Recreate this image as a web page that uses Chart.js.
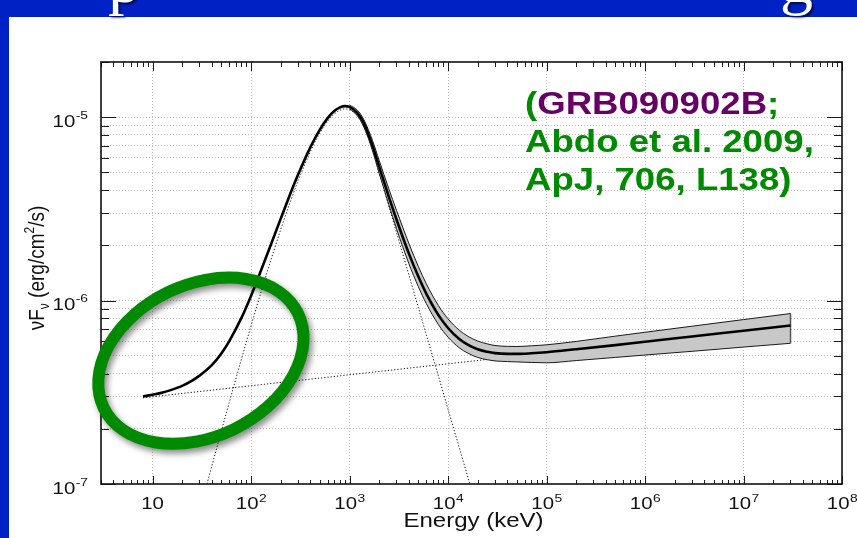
<!DOCTYPE html>
<html>
<head>
<meta charset="utf-8">
<script src="https://cdn.jsdelivr.net/npm/chart.js@4.4.1/dist/chart.umd.min.js"></script>
<style>
  html, body { margin: 0; padding: 0; background: #0022c4; overflow: hidden; }
  #c { display: block; }
</style>
</head>
<body>
<canvas id="c" width="857" height="538" style="width:857px;height:538px"></canvas>
<script>
// Photon energy grid (keV) and total model nuFnu (erg/cm^2/s): Band + power law
const energyKeV = [8, 10, 12, 15, 20, 25, 30, 40, 50, 60, 80, 100, 130, 160, 200, 250, 300, 400, 500, 600,
  700, 800, 900, 1000, 1200, 1400, 1715, 2000, 2500, 3000, 4000, 5000, 6000, 8000, 1e4, 1.3e4, 1.6e4,
  2e4, 2.5e4, 3e4, 4e4, 5e4, 7e4, 1e5, 2e5, 5e5, 1e6, 3e6, 1e7, 3e7];
const totalFlux = [3.00e-7, 3.07e-7, 3.13e-7, 3.24e-7, 3.43e-7, 3.65e-7, 3.90e-7, 4.45e-7, 5.15e-7, 6.00e-7,
  8.05e-7, 1.06e-6, 1.519e-6, 2.033e-6, 2.79e-6, 3.81e-6, 4.85e-6, 6.85e-6, 8.56e-6, 9.89e-6,
  1.080e-5, 1.131e-5, 1.149e-5, 1.138e-5, 1.056e-5, 9.26e-6, 6.98e-6, 5.37e-6, 3.70e-6, 2.77e-6,
  1.81e-6, 1.352e-6, 1.095e-6, 8.33e-7, 7.09e-7, 6.18e-7, 5.74e-7, 5.43e-7, 5.26e-7, 5.17e-7,
  5.12e-7, 5.12e-7, 5.16e-7, 5.23e-7, 5.43e-7, 5.72e-7, 5.97e-7, 6.37e-7, 6.85e-7, 7.31e-7];

// 1-sigma envelope of the total model
const envEnergy = [1000, 1200, 1400, 1715, 2000, 2500, 3000, 4000, 5000, 6000, 8000, 1e4, 1.3e4, 1.6e4,
  2e4, 2.5e4, 3e4, 4e4, 5e4, 7e4, 1e5, 2e5, 5e5, 1e6, 3e6, 1e7, 3e7];
const envUpper = [1.1645e-5, 1.0931e-5, 9.696e-6, 7.445e-6, 5.821e-6, 4.085e-6, 3.108e-6, 2.054e-6, 1.535e-6,
  1.240e-6, 9.39e-7, 7.96e-7, 6.90e-7, 6.38e-7, 6.02e-7, 5.81e-7, 5.69e-7, 5.63e-7, 5.62e-7, 5.67e-7,
  5.74e-7, 5.99e-7, 6.40e-7, 6.72e-7, 7.25e-7, 7.88e-7, 8.50e-7];
const envLower = [1.1121e-5, 1.0202e-5, 8.843e-6, 6.544e-6, 4.954e-6, 3.351e-6, 2.469e-6, 1.595e-6, 1.191e-6,
  9.67e-7, 7.39e-7, 6.32e-7, 5.53e-7, 5.16e-7, 4.90e-7, 4.76e-7, 4.69e-7, 4.65e-7, 4.63e-7, 4.60e-7,
  4.58e-7, 4.71e-7, 4.90e-7, 5.05e-7, 5.29e-7, 5.58e-7, 5.85e-7];

// Band-function component alone
const bandEnergy = [30, 40, 50, 60, 80, 100, 130, 160, 200, 250, 300, 400, 500, 600, 700, 800, 900, 1000,
  1200, 1400, 1715, 2000, 2500, 3000, 4000, 5000, 6000, 8000, 1e4, 1.3e4, 1.6e4, 2e4];
const bandFlux = [7.06e-8, 1.253e-7, 1.943e-7, 2.771e-7, 4.80e-7, 7.28e-7, 1.170e-6, 1.680e-6, 2.434e-6,
  3.446e-6, 4.483e-6, 6.479e-6, 8.185e-6, 9.504e-6, 1.041e-5, 1.092e-5, 1.110e-5, 1.098e-5, 1.016e-5,
  8.86e-6, 6.57e-6, 4.96e-6, 3.29e-6, 2.35e-6, 1.384e-6, 9.18e-7, 6.56e-7, 3.87e-7, 2.56e-7, 1.58e-7,
  1.08e-7, 7.16e-8];

// Extra power-law component alone
const plEnergy = [8, 3e7];
const plFlux = [2.95e-7, 7.31e-7];

// Axis ranges and tick labels (base, exponent)
const xRange = [3, 1e8];
const yRange = [1e-7, 2e-5];
const xTickValues = [10, 100, 1e3, 1e4, 1e5, 1e6, 1e7, 1e8];
const xTickLabels = [['10', ''], ['10', '2'], ['10', '3'], ['10', '4'], ['10', '5'], ['10', '6'], ['10', '7'], ['10', '8']];
const yTickValues = [1e-7, 1e-6, 1e-5];
const yTickLabels = [['10', '-7'], ['10', '-6'], ['10', '-5']];
const minorSteps = [2, 3, 4, 5, 6, 7, 8, 9];

// Highlight ring around the low-energy excess (centre in data units)
const ringCentre = { x: 31, y: 4.7e-7 };

const GREEN = '#008a00';
const PURPLE = '#660066';
const SANS = "'Liberation Sans', Arial, Helvetica, sans-serif";
const STRETCH = 1.2;

const pts = (xs, ys) => xs.map((x, i) => ({ x, y: ys[i] }));

function decadeTicks(lo, hi) {
  const out = [];
  for (let e = Math.floor(Math.log10(lo)); e <= Math.ceil(Math.log10(hi)); e++) {
    for (const m of [1, ...minorSteps]) {
      const v = m * Math.pow(10, e);
      if (v >= lo * 0.999 && v <= hi * 1.001) out.push({ v, major: m === 1 });
    }
  }
  return out;
}

function wideText(ctx, str, x, y, font, color, sx) {
  ctx.save();
  ctx.font = font;
  ctx.fillStyle = color;
  ctx.textAlign = 'left';
  ctx.textBaseline = 'alphabetic';
  ctx.translate(x, y);
  ctx.scale(sx, 1);
  ctx.fillText(str, 0, 0);
  ctx.restore();
}
function wideWidth(ctx, str, font, sx) {
  ctx.save();
  ctx.font = font;
  const w = ctx.measureText(str).width * sx;
  ctx.restore();
  return w;
}

const slidePlugin = {
  id: 'slideDecor',
  beforeDraw(chart) {
    const ctx = chart.ctx;
    ctx.save();
    ctx.fillStyle = '#0022c4';
    ctx.fillRect(0, 0, chart.width, chart.height);
    ctx.fillStyle = '#ffffff';
    ctx.fillRect(9, 17, chart.width - 9, chart.height - 17);
    ctx.restore();
  },
  afterDatasetsDraw(chart) {
    const ctx = chart.ctx;
    const a = chart.chartArea;
    const xs = chart.scales.x, ys = chart.scales.y;
    ctx.save();
    ctx.strokeStyle = '#1a1a1a';
    ctx.lineWidth = 1;
    // x ticks on bottom and top edges, pointing inward
    for (const t of decadeTicks(xRange[0], xRange[1])) {
      const px = Math.round(xs.getPixelForValue(t.v)) + 0.5;
      const lb = t.major ? 8 : 4;
      const lt = t.major ? 9 : 5;
      ctx.beginPath();
      ctx.moveTo(px, a.bottom); ctx.lineTo(px, a.bottom - lb);
      ctx.moveTo(px, a.top); ctx.lineTo(px, a.top + lt);
      ctx.stroke();
    }
    // y ticks on left and right edges, pointing inward
    for (const t of decadeTicks(yRange[0], yRange[1])) {
      const py = Math.round(ys.getPixelForValue(t.v)) + 0.5;
      const l = t.major ? 15 : 8;
      ctx.beginPath();
      ctx.moveTo(a.left, py); ctx.lineTo(a.left + l, py);
      ctx.moveTo(a.right, py); ctx.lineTo(a.right - l, py);
      ctx.stroke();
    }
    ctx.lineWidth = 1.6;
    ctx.strokeStyle = '#111';
    ctx.strokeRect(a.left, a.top, a.right - a.left, a.bottom - a.top);
    ctx.restore();
  },
  afterDraw(chart) {
    const ctx = chart.ctx;
    const a = chart.chartArea;
    const xs = chart.scales.x, ys = chart.scales.y;
    const baseFont = '17px ' + SANS;
    const supFont = '11.5px ' + SANS;

    // x tick labels: 10^n
    xTickValues.forEach((v, i) => {
      const [b, e] = xTickLabels[i];
      const px = xs.getPixelForValue(v);
      const wb = wideWidth(ctx, b, baseFont, STRETCH);
      const we = e ? wideWidth(ctx, e, supFont, STRETCH) : 0;
      const x0 = px - (wb + we) / 2;
      wideText(ctx, b, x0, 509, baseFont, '#111', STRETCH);
      if (e) wideText(ctx, e, x0 + wb + 0.5, 501.5, supFont, '#111', STRETCH);
    });
    // y tick labels, right aligned
    yTickValues.forEach((v, i) => {
      const [b, e] = yTickLabels[i];
      const py = ys.getPixelForValue(v);
      const wb = wideWidth(ctx, b, baseFont, STRETCH);
      const we = wideWidth(ctx, e, supFont, STRETCH);
      const x1 = a.left - 13;
      wideText(ctx, b, x1 - we - wb - 0.5, py + 9.5, baseFont, '#111', STRETCH);
      wideText(ctx, e, x1 - we, py + 1.5, supFont, '#111', STRETCH);
    });

    // x axis title
    {
      const f = '20px ' + SANS;
      const w = wideWidth(ctx, 'Energy (keV)', f, STRETCH);
      wideText(ctx, 'Energy (keV)', (a.left + a.right) / 2 - w / 2 + 2, 527, f, '#111', STRETCH);
    }
    // y axis title, rotated
    {
      const big = '19px ' + SANS, small = '12px ' + SANS;
      const runs = [
        { t: 'ν', f: big, dy: 0 }, { t: 'F', f: big, dy: 0 }, { t: 'ν', f: small, dy: 4 },
        { t: ' (erg/cm', f: big, dy: 0 }, { t: '2', f: small, dy: -8 }, { t: '/s)', f: big, dy: 0 }
      ];
      ctx.save();
      let total = 0;
      for (const r of runs) { ctx.font = r.f; r.w = ctx.measureText(r.t).width; total += r.w; }
      ctx.translate(44, 268);
      ctx.scale(STRETCH, 1);
      ctx.rotate(-Math.PI / 2);
      ctx.fillStyle = '#111';
      ctx.textBaseline = 'alphabetic';
      let x = -total / 2;
      for (const r of runs) { ctx.font = r.f; ctx.fillText(r.t, x, r.dy); x += r.w; }
      ctx.restore();
    }

    // citation note
    {
      const f = 'bold 30.5px ' + SANS;
      const lines = [
        [{ t: '(', c: GREEN }, { t: 'GRB090902B', c: PURPLE }, { t: ';', c: GREEN }],
        [{ t: 'Abdo et al. 2009,', c: GREEN }],
        [{ t: 'ApJ, 706, L138)', c: GREEN }]
      ];
      const baselines = [114, 152, 190];
      lines.forEach((line, li) => {
        let x = 525;
        for (const r of line) {
          wideText(ctx, r.t, x, baselines[li], f, r.c, STRETCH);
          x += wideWidth(ctx, r.t, f, STRETCH);
        }
      });
    }

    // highlight ring
    {
      const cx = xs.getPixelForValue(ringCentre.x);
      const cy = ys.getPixelForValue(ringCentre.y);
      ctx.save();
      ctx.shadowColor = 'rgba(0,0,0,0.45)';
      ctx.shadowBlur = 6;
      ctx.shadowOffsetX = 3;
      ctx.shadowOffsetY = 4;
      ctx.strokeStyle = GREEN;
      ctx.lineWidth = 12;
      ctx.beginPath();
      ctx.ellipse(cx, cy, 108, 76, -26 * Math.PI / 180, 0, Math.PI * 2);
      ctx.stroke();
      ctx.restore();
    }

    // slide heading letters cut by the top of the frame
    {
      ctx.save();
      ctx.font = '66px "Liberation Serif", "Times New Roman", serif';
      ctx.fillStyle = '#ffffff';
      ctx.shadowColor = 'rgba(0,0,0,0.6)';
      ctx.shadowBlur = 2;
      ctx.shadowOffsetX = 2;
      ctx.shadowOffsetY = 2;
      ctx.textBaseline = 'alphabetic';
      ctx.fillText('p', 108, 2);
      ctx.fillText('g', 780, 2);
      ctx.restore();
    }
  }
};

const yGridValues = decadeTicks(yRange[0], yRange[1]).map(t => t.v);

const chart = new Chart(document.getElementById('c'), {
  type: 'scatter',
  data: {
    datasets: [
      {
        label: 'Band + PL',
        data: pts(energyKeV, totalFlux),
        showLine: true, pointRadius: 0,
        borderColor: '#000', borderWidth: 2.6,
        cubicInterpolationMode: 'monotone',
        order: 0
      },
      {
        label: 'upper',
        data: pts(envEnergy, envUpper),
        showLine: true, pointRadius: 0,
        borderColor: '#1a1a1a', borderWidth: 1,
        cubicInterpolationMode: 'monotone',
        order: 1
      },
      {
        label: 'lower',
        data: pts(envEnergy, envLower),
        showLine: true, pointRadius: 0,
        borderColor: '#1a1a1a', borderWidth: 1,
        backgroundColor: '#c8c8c8',
        fill: '-1',
        cubicInterpolationMode: 'monotone',
        order: 2
      },
      {
        label: 'envelope end',
        data: [{ x: envEnergy[envEnergy.length - 1], y: envLower[envLower.length - 1] },
               { x: envEnergy[envEnergy.length - 1], y: envUpper[envUpper.length - 1] }],
        showLine: true, pointRadius: 0,
        borderColor: '#555', borderWidth: 1.5,
        order: 1
      },
      {
        label: 'PL',
        data: pts(plEnergy, plFlux),
        showLine: true, pointRadius: 0,
        borderColor: '#111', borderWidth: 1, borderDash: [1.2, 2],
        order: 3
      },
      {
        label: 'Band',
        data: pts(bandEnergy, bandFlux),
        showLine: true, pointRadius: 0,
        borderColor: '#111', borderWidth: 1, borderDash: [1.2, 2],
        cubicInterpolationMode: 'monotone',
        order: 4
      }
    ]
  },
  options: {
    responsive: false,
    animation: false,
    devicePixelRatio: 1,
    layout: { padding: { left: 101, top: 62, right: 15, bottom: 54 } },
    plugins: {
      legend: { display: false },
      tooltip: { enabled: false },
      filler: { propagate: false }
    },
    scales: {
      x: {
        type: 'logarithmic',
        min: xRange[0], max: xRange[1],
        ticks: { display: false },
        grid: { color: '#bcbcbc', lineWidth: 1, drawTicks: false },
        border: { display: false, dash: [1, 2] },
        afterBuildTicks: s => { s.ticks = xTickValues.filter(v => v < xRange[1]).map(v => ({ value: v })); }
      },
      y: {
        type: 'logarithmic',
        min: yRange[0], max: yRange[1],
        ticks: { display: false },
        grid: { color: '#bcbcbc', lineWidth: 1, drawTicks: false },
        border: { display: false, dash: [1, 2] },
        afterBuildTicks: s => { s.ticks = yGridValues.filter(v => v > yRange[0] && v < yRange[1]).map(v => ({ value: v })); }
      }
    }
  },
  plugins: [slidePlugin]
});
</script>
</body>
</html>
